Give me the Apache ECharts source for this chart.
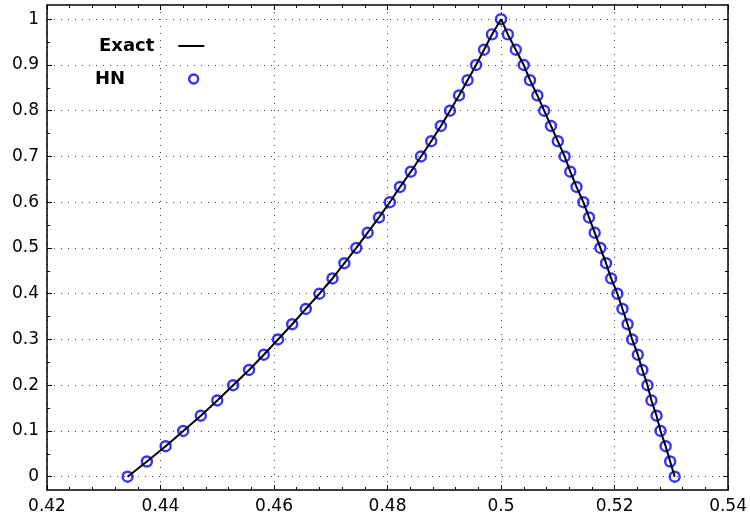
<!DOCTYPE html>
<html>
<head>
<meta charset="utf-8">
<script src="https://cdn.jsdelivr.net/npm/echarts@6/dist/echarts.min.js"></script>
<style>
html,body{margin:0;padding:0;background:#fff;}
#c{width:750px;height:521px;}
</style>
</head>
<body>
<div id="c"></div>
<script>
// y levels (k/30), read as values
const yLevels = [0, 0.0333, 0.0667, 0.1, 0.1333, 0.1667, 0.2, 0.2333, 0.2667, 0.3, 0.3333, 0.3667, 0.4, 0.4333, 0.4667, 0.5, 0.5333, 0.5667, 0.6, 0.6333, 0.6667, 0.7, 0.7333, 0.7667, 0.8, 0.8333, 0.8667, 0.9, 0.9333, 0.9667, 1];
// x positions on the rising (left) branch, for each y level
const xLeft = [0.4342, 0.4376, 0.4409, 0.4440, 0.4471, 0.4500, 0.4528, 0.4556, 0.4582, 0.4607, 0.4632, 0.4656, 0.4680, 0.4703, 0.4724, 0.4745, 0.4765, 0.4785, 0.4804, 0.4822, 0.4841, 0.4859, 0.4877, 0.4894, 0.4910, 0.4926, 0.4941, 0.4956, 0.4970, 0.4984, 0.5000];
// x positions on the falling (right) branch, for each y level
const xRight = [0.5306, 0.5298, 0.5290, 0.5281, 0.5274, 0.5265, 0.5258, 0.5249, 0.5241, 0.5231, 0.5223, 0.5214, 0.5205, 0.5194, 0.5185, 0.5175, 0.5165, 0.5155, 0.5145, 0.5133, 0.5122, 0.5112, 0.5100, 0.5088, 0.5076, 0.5064, 0.5051, 0.5040, 0.5026, 0.5012, 0.5000];
const yTicks = [0, 0.1, 0.2, 0.3, 0.4, 0.5, 0.6, 0.7, 0.8, 0.9, 1];
const yMinorTicks = [0.05, 0.15, 0.25, 0.35, 0.45, 0.55, 0.65, 0.75, 0.85, 0.95];

const pts = [];
for (let i = 0; i < yLevels.length; i++) pts.push([xLeft[i], yLevels[i]]);
for (let i = yLevels.length - 2; i >= 0; i--) pts.push([xRight[i], yLevels[i]]);

const FONT = 'DejaVu Sans';
const dotted = { color: '#444', width: 1, type: [1, 6] };
const axisLine = { show: true, onZero: false, lineStyle: { color: '#000', width: 1.5 } };
const noLine = { show: false, onZero: false };
const YMIN = -0.029, YMAX = 1.031;
const MAJ = 5, MIN = 3;

const chart = echarts.init(document.getElementById('c'), null, { renderer: 'canvas' });
chart.setOption({
  animation: false,
  backgroundColor: '#fff',
  grid: { left: 47, right: 20, top: 5, bottom: 31, containLabel: false },
  legend: [
    {
      data: [{ name: 'Exact', icon: 'rect', itemStyle: { color: '#000' } }],
      left: 99, top: 37, padding: 0, align: 'right',
      itemWidth: 26, itemHeight: 2, selectedMode: false,
      textStyle: { fontFamily: FONT, fontWeight: 'bold', fontSize: 18, color: '#000', padding: [0, 19, 0, 0] }
    },
    {
      data: [{ name: 'HN', icon: 'circle', itemStyle: { color: 'rgba(0,0,0,0)', borderColor: '#0000ff', borderWidth: 2.4 } }],
      left: 95, top: 70, padding: 0, align: 'right',
      itemWidth: 9, itemHeight: 9, selectedMode: false,
      textStyle: { fontFamily: FONT, fontWeight: 'bold', fontSize: 18, color: '#000', padding: [0, 59, 0, 0] }
    }
  ],
  xAxis: [
    {
      type: 'value', position: 'bottom', min: 0.42, max: 0.54, interval: 0.02,
      axisLine: axisLine,
      axisTick: { show: true, inside: true, length: MAJ, lineStyle: { color: '#000', width: 1 } },
      minorTick: { show: true, splitNumber: 5, length: MIN, lineStyle: { color: '#000', width: 1 } },
      axisLabel: { fontFamily: FONT, fontSize: 17, color: '#000', margin: 8 },
      splitLine: { show: true, lineStyle: dotted },
      minorSplitLine: { show: false }
    },
    {
      type: 'value', position: 'top', min: 0.42, max: 0.54, interval: 0.02,
      axisLine: axisLine,
      axisTick: { show: true, inside: true, length: MAJ, lineStyle: { color: '#000', width: 1 } },
      minorTick: { show: true, splitNumber: 5, length: MIN, lineStyle: { color: '#000', width: 1 } },
      axisLabel: { show: false },
      splitLine: { show: false }
    }
  ],
  yAxis: [
    {
      type: 'value', position: 'left', min: YMIN, max: YMAX,
      axisLine: axisLine,
      axisTick: { show: true, inside: true, length: MAJ, customValues: yTicks, lineStyle: { color: '#000', width: 1 } },
      axisLabel: { fontFamily: FONT, fontSize: 17, color: '#000', margin: 8, customValues: yTicks,
        formatter: v => String(Math.round(v * 10) / 10) },
      splitLine: { show: true, lineStyle: dotted }
    },
    {
      type: 'value', position: 'right', min: YMIN, max: YMAX,
      axisLine: axisLine,
      axisTick: { show: true, inside: true, length: MAJ, customValues: yTicks, lineStyle: { color: '#000', width: 1 } },
      axisLabel: { show: false },
      splitLine: { show: false }
    },
    {
      type: 'value', position: 'left', min: YMIN, max: YMAX,
      axisLine: noLine,
      axisTick: { show: true, inside: true, length: MIN, customValues: yMinorTicks, lineStyle: { color: '#000', width: 1 } },
      axisLabel: { show: false },
      splitLine: { show: false }
    },
    {
      type: 'value', position: 'right', min: YMIN, max: YMAX,
      axisLine: noLine,
      axisTick: { show: true, inside: true, length: MIN, customValues: yMinorTicks, lineStyle: { color: '#000', width: 1 } },
      axisLabel: { show: false },
      splitLine: { show: false }
    }
  ],
  series: [
    {
      name: 'HN', type: 'scatter', xAxisIndex: 0, yAxisIndex: 0,
      data: pts, symbol: 'circle', symbolSize: 10,
      itemStyle: { color: 'rgba(0,0,0,0)', borderColor: '#0000ff', borderWidth: 2.4 },
      z: 2
    },
    {
      name: 'Exact', type: 'line', xAxisIndex: 0, yAxisIndex: 0,
      data: pts, symbol: 'none', showSymbol: false,
      itemStyle: { color: '#000' },
      lineStyle: { color: '#000', width: 2 },
      z: 3
    }
  ]
});
</script>
</body>
</html>
